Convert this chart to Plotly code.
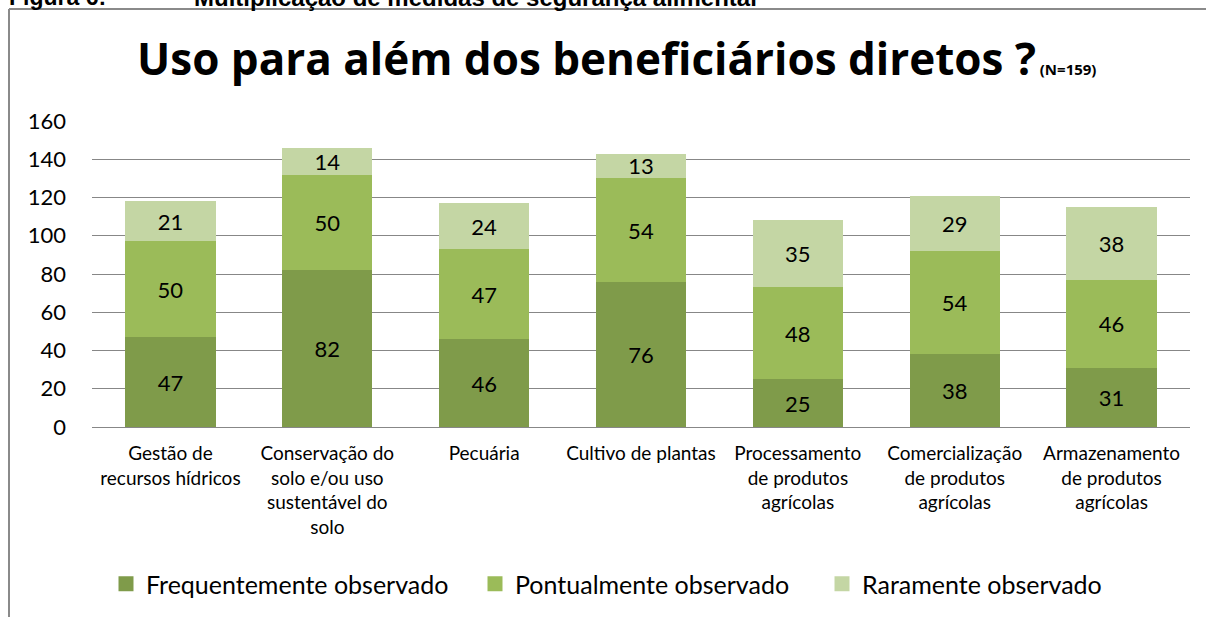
import plotly.graph_objects as go

categories = [
    "Gestão de<br>recursos hídricos",
    "Conservação do<br>solo e/ou uso<br>sustentável do<br>solo",
    "Pecuária",
    "Cultivo de plantas",
    "Processamento<br>de produtos<br>agrícolas",
    "Comercialização<br>de produtos<br>agrícolas",
    "Armazenamento<br>de produtos<br>agrícolas",
]
series_names = ["Frequentemente observado", "Pontualmente observado", "Raramente observado"]
frequente = [47, 82, 46, 76, 25, 38, 31]
pontual = [50, 50, 47, 54, 48, 54, 46]
raramente = [21, 14, 24, 13, 35, 29, 38]
colors = ["#7F9B4A", "#9BBB59", "#C4D6A4"]
y_ticks = [0, 20, 40, 60, 80, 100, 120, 140, 160]

W, H = 1206, 617
L, R, T, B = 92, 1190, 121, 427
FONT = "Lato"


def px2x(p):
    return (p - L) / (R - L)


def py2y(p):
    return (B - p) / (B - T)


fig = go.Figure()
for name, vals, col in zip(series_names, [frequente, pontual, raramente], colors):
    fig.add_trace(go.Bar(
        x=categories, y=vals, name=name, showlegend=False,
        marker=dict(color=col, line=dict(width=0)),
        text=vals, texttemplate="%{text}", textposition="inside",
        insidetextanchor="middle", textangle=0,
        textfont=dict(family=FONT, size=22, color="#000000"),
        width=0.575,
    ))

# legend entries (one legend per entry so that each can be placed like the reference)
legend_names = ["legend", "legend2", "legend3"]
legend_left_px = [106, 475, 822]
for name, col, lg in zip(series_names, colors, legend_names):
    fig.add_trace(go.Scatter(
        x=[None], y=[None], mode="markers", name=name, legend=lg, showlegend=True,
        marker=dict(symbol="square", size=15, color=col, line=dict(width=0)),
    ))

legend_common = dict(
    orientation="h", yanchor="middle", y=py2y(584), xanchor="left",
    font=dict(family=FONT, size=25, color="#000000"),
    itemclick=False, itemdoubleclick=False, bgcolor="rgba(0,0,0,0)", borderwidth=0,
)

fig.update_layout(
    width=W, height=H,
    barmode="stack",
    plot_bgcolor="white", paper_bgcolor="white",
    margin=dict(l=L, r=W - R, t=T, b=H - B, pad=0, autoexpand=False),
    font=dict(family=FONT, color="#000000"),
    uniformtext=dict(minsize=22, mode="show"),
    showlegend=True,
    legend=dict(x=px2x(legend_left_px[0]), **legend_common),
    legend2=dict(x=px2x(legend_left_px[1]), **legend_common),
    legend3=dict(x=px2x(legend_left_px[2]), **legend_common),
    xaxis=dict(
        showgrid=False, showline=False, zeroline=False,
        tickfont=dict(family=FONT, size=19, color="#000000"),
        ticks="", ticklabelstandoff=13, fixedrange=True,
    ),
    yaxis=dict(
        range=[0, 160], tickvals=y_ticks, showgrid=True, gridcolor="#878787", gridwidth=1,
        zeroline=True, zerolinecolor="#878787", zerolinewidth=1, showline=False,
        tickfont=dict(family=FONT, size=22, color="#000000"),
        ticks="", ticklabelstandoff=25, fixedrange=True,
    ),
)

# Outer frame (partial, as cropped in the reference)
frame_col = "#8A8A8A"
fig.add_shape(type="line", xref="paper", yref="paper",
              x0=px2x(9), x1=px2x(9), y0=py2y(9), y1=py2y(H),
              line=dict(color=frame_col, width=2))
fig.add_shape(type="line", xref="paper", yref="paper",
              x0=px2x(9), x1=px2x(W), y0=py2y(9), y1=py2y(9),
              line=dict(color=frame_col, width=2))

# Title
fig.add_annotation(
    xref="paper", yref="paper", x=px2x(616), y=py2y(58), xanchor="center", yanchor="middle",
    text="<b>Uso para além dos beneficiários diretos ?</b><b><span style='font-size:15px'> (N=159)</span></b>",
    showarrow=False, font=dict(family="Open Sans", size=44, color="#000000"),
)

# Cropped caption above the frame
fig.add_annotation(
    xref="paper", yref="paper", x=px2x(7), y=py2y(-3), xanchor="left", yanchor="middle",
    text="<b>Figura 6:</b>", showarrow=False,
    font=dict(family="Liberation Sans", size=23, color="#000000"),
)
fig.add_annotation(
    xref="paper", yref="paper", x=px2x(192), y=py2y(-3), xanchor="left", yanchor="middle",
    text="<b>Multiplicação de medidas de segurança alimentar</b>", showarrow=False,
    font=dict(family="Liberation Sans", size=24, color="#000000"),
)

fig.write_html("out.html", config={"displayModeBar": False},
               post_script="document.body.style.margin='0';document.body.style.overflow='hidden';")
